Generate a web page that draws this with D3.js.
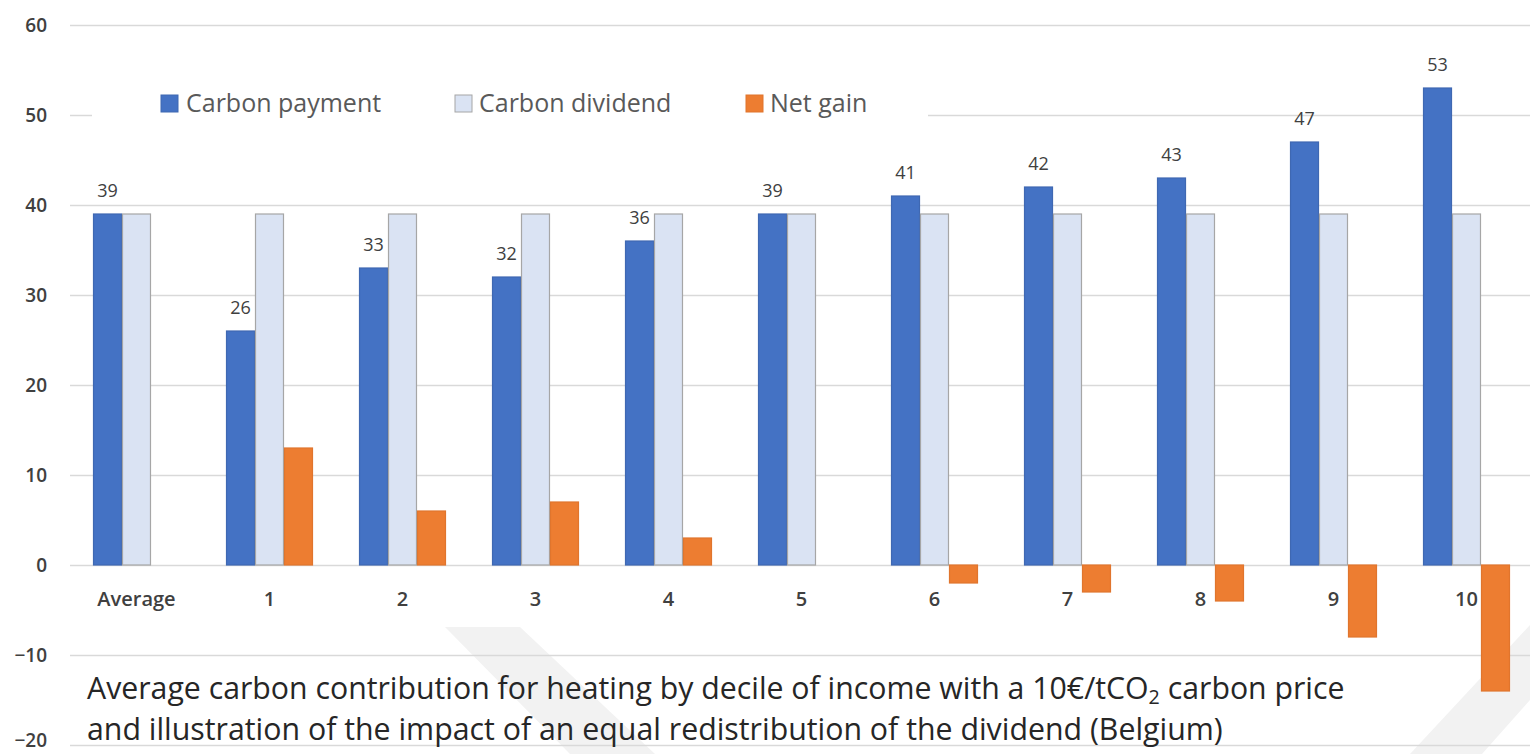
<!DOCTYPE html>
<html>
<head>
<meta charset="utf-8">
<script src="https://cdn.jsdelivr.net/npm/d3@7"></script>
<style>
  html, body { margin: 0; padding: 0; background: #fff; }
  svg { display: block; }
</style>
</head>
<body>
<div class="graph-goes-here"></div>
<script>
// data
var categories = ["Average", "1", "2", "3", "4", "5", "6", "7", "8", "9", "10"];
var seriesNames = ["Carbon payment", "Carbon dividend", "Net gain"];
var carbonPayment = [39, 26, 33, 32, 36, 39, 41, 42, 43, 47, 53];
var carbonDividend = [39, 39, 39, 39, 39, 39, 39, 39, 39, 39, 39];
var netGain = [0, 13, 6, 7, 3, 0, -2, -3, -4, -8, -14];
var yTicks = [-20, -10, 0, 10, 20, 30, 40, 50, 60];

var colors = { "Carbon payment": "#4472C4", "Carbon dividend": "#DAE3F3", "Net gain": "#ED7D31" };
var strokes = { "Carbon payment": "#3F68B2", "Carbon dividend": "#A6A6A6", "Net gain": "#E0752D" };

var width = 1530, height = 754;
var plotLeft = 70, plotRight = 1530;
var font = "'Open Sans', 'Noto Sans', sans-serif";

var svg = d3.select(".graph-goes-here")
    .append("svg")
    .attr("width", width)
    .attr("height", height);

var xScale = d3.scaleBand().domain(categories).range([plotLeft, 1533]).paddingInner(0.346).paddingOuter(0.173);
var xInner = d3.scaleBand().domain(seriesNames).range([0, xScale.bandwidth()]);
var yScale = d3.scaleLinear().domain([-20, 60]).range([745, 25]);

// faint watermark chevron behind everything
var wm = svg.append("g").attr("fill", "#F2F2F2");
wm.append("path").attr("d", "M445,627 L520,627 L655,754 L570,754 Z");
wm.append("path").attr("d", "M1530,625 L1530,700 L1482,754 L1410,754 Z");

// gridlines + y labels
var yAxis = svg.append("g")
    .attr("transform", "translate(" + plotLeft + ",0)")
    .call(d3.axisLeft(yScale).tickValues(yTicks).tickSize(-(plotRight - plotLeft)).tickPadding(23));
yAxis.select(".domain").remove();
yAxis.selectAll(".tick line").attr("stroke", "#D9D9D9").attr("stroke-width", 1.5);
yAxis.selectAll(".tick text")
    .attr("fill", "#404040")
    .style("font-family", font)
    .style("font-weight", 600)
    .style("font-size", "19px");
// lowest label sits on the bottom edge, lift it a little
yAxis.selectAll(".tick text").filter(d => d === -20).attr("dy", "0.1em");

// legend background hides part of the 50 gridline
svg.append("rect")
    .attr("x", 92).attr("y", 72).attr("width", 836).attr("height", 62)
    .attr("fill", "#fff");

// bars
var rows = categories.map(function (c, i) {
    return { cat: c, values: [carbonPayment[i], carbonDividend[i], netGain[i]] };
});

var groups = svg.append("g").selectAll("g")
    .data(rows)
    .join("g")
    .attr("transform", d => "translate(" + xScale(d.cat) + ",0)");

groups.selectAll("rect")
    .data(d => seriesNames.map((s, j) => ({ series: s, value: d.values[j] })).filter(e => e.value !== 0))
    .join("rect")
    .attr("x", d => xInner(d.series) + 0.5)
    .attr("width", xInner.bandwidth() - 1)
    .attr("y", d => yScale(Math.max(0, d.value)))
    .attr("height", d => Math.abs(yScale(d.value) - yScale(0)))
    .attr("fill", d => colors[d.series])
    .attr("stroke", d => strokes[d.series])
    .attr("stroke-width", 1.2);

// value labels on carbon payment
groups.append("text")
    .attr("x", xInner("Carbon payment") + xInner.bandwidth() / 2)
    .attr("y", d => yScale(d.values[0]) - 17)
    .attr("text-anchor", "middle")
    .attr("fill", "#404040")
    .style("font-family", font)
    .style("font-size", "18px")
    .text(d => d.values[0]);

// category labels
var xAxis = svg.append("g")
    .attr("transform", "translate(0," + yScale(0) + ")")
    .call(d3.axisBottom(xScale).tickSize(0).tickPadding(27));
xAxis.select(".domain").remove();
xAxis.selectAll(".tick text")
    .attr("fill", "#404040")
    .style("font-family", font)
    .style("font-weight", 600)
    .style("font-size", "20px");

// legend
var legendItems = [
    { name: "Carbon payment", sx: 161, tx: 186 },
    { name: "Carbon dividend", sx: 455, tx: 479 },
    { name: "Net gain", sx: 746, tx: 770 }
];
var legend = svg.append("g");
legend.selectAll("rect")
    .data(legendItems)
    .join("rect")
    .attr("x", d => d.sx).attr("y", 95)
    .attr("width", 17).attr("height", 17)
    .attr("fill", d => colors[d.name])
    .attr("stroke", d => strokes[d.name]);
legend.selectAll("text")
    .data(legendItems)
    .join("text")
    .attr("x", d => d.tx).attr("y", 112)
    .attr("fill", "#595959")
    .style("font-family", font)
    .style("font-size", "25px")
    .text(d => d.name);

// caption
var caption = svg.append("g")
    .attr("fill", "#262626")
    .style("font-family", font);
var line1 = caption.append("text").attr("x", 87).attr("y", 699);
line1.append("tspan").text("Average carbon contribution for heating by decile of income with a 10€/tCO");
line1.append("tspan").attr("dy", 5).style("font-size", "0.65em").text("2");
line1.append("tspan").attr("dy", -5).text(" carbon price");
var line2 = caption.append("text").attr("x", 87).attr("y", 740)
    .text("and illustration of the impact of an equal redistribution of the dividend (Belgium)");

// fit caption widths to the picture
[[line1, 1258], [line2, 1136]].forEach(function (p) {
    p[0].style("font-size", "26px");
    var w = p[0].node().getComputedTextLength();
    p[0].style("font-size", (26 * p[1] / w) + "px");
});
</script>
</body>
</html>
